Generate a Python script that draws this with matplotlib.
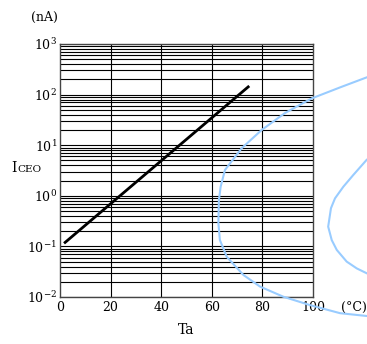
import matplotlib.pyplot as plt
import numpy as np

# ICEO vs Ta
ta = [1.6, 74.8]
iceo = [0.115, 148]

x_ticks = [0, 20, 40, 60, 80, 100]
y_ticks = [1e-2, 1e-1, 1e0, 1e1, 1e2, 1e3]
y_labels = ['$10^{-2}$', '$10^{-1}$', '$10^{0}$', '$10^{1}$', '$10^{2}$', '$10^{3}$']

# light blue arcs over the sheet (axes fraction)
arc1_x = [1.212, 1.111, 0.995, 0.889, 0.797, 0.718, 0.652, 0.635, 0.628, 0.626,
          0.632, 0.659, 0.725, 0.791, 0.883, 0.988, 1.107, 1.212]
arc1_y = [0.868, 0.830, 0.785, 0.727, 0.660, 0.588, 0.502, 0.436, 0.383, 0.292,
          0.225, 0.159, 0.087, 0.041, 0.001, -0.032, -0.064, -0.075]
arc2_x = [1.212, 1.159, 1.120, 1.087, 1.071, 1.060, 1.074, 1.094, 1.133, 1.173, 1.212]
arc2_y = [0.542, 0.482, 0.436, 0.390, 0.351, 0.278, 0.225, 0.186, 0.140, 0.113, 0.094]

plt.rcParams['font.family'] = 'DejaVu Serif'
plt.rcParams['mathtext.fontset'] = 'dejavuserif'

fig = plt.figure(figsize=(3.67, 3.44), dpi=100)
ax = fig.add_axes([60 / 367, 47 / 344, 253 / 367, 253 / 344])

ax.set_yscale('log')
ax.set_xlim(0, 100)
ax.set_ylim(1e-2, 1e3)

# grid: every decade plus 2..9, verticals every 20
for dec in range(-2, 3):
    for m in range(1, 10):
        ax.axhline(m * 10.0 ** dec, color='black', lw=0.8, zorder=1)
for xv in x_ticks[1:-1]:
    ax.axvline(xv, color='black', lw=0.8, zorder=1)

ax.plot(ta, iceo, color='black', lw=2.0, solid_capstyle='butt', zorder=3)

ax.plot(arc1_x, arc1_y, color='#99ccff', lw=1.5, transform=ax.transAxes,
        clip_on=False, zorder=4)
ax.plot(arc2_x, arc2_y, color='#99ccff', lw=1.5, transform=ax.transAxes,
        clip_on=False, zorder=4)

ax.set_xticks(x_ticks)
ax.set_xticklabels([str(v) for v in x_ticks])
ax.set_yticks(y_ticks)
ax.set_yticklabels(y_labels)
ax.minorticks_off()
ax.tick_params(length=0, labelsize=9, pad=3)
ax.tick_params(axis='y', pad=2)
for s in ax.spines.values():
    s.set_linewidth(1.0)
    s.set_color('#444444')

ax.set_xlabel('Ta', fontsize=10, labelpad=6)
fig.text(44 / 367, 1 - 17 / 344, '(nA)', fontsize=9, ha='center', va='center')
fig.text(354 / 367, 1 - 307 / 344, '(°C)', fontsize=9, ha='center', va='center')
fig.text(11 / 367, 1 - 172 / 344, 'I', fontsize=10, ha='left', va='baseline')
fig.text(17 / 367, 1 - 172 / 344, 'CEO', fontsize=7.5, ha='left', va='baseline')

fig.savefig('out.png', dpi=100)
